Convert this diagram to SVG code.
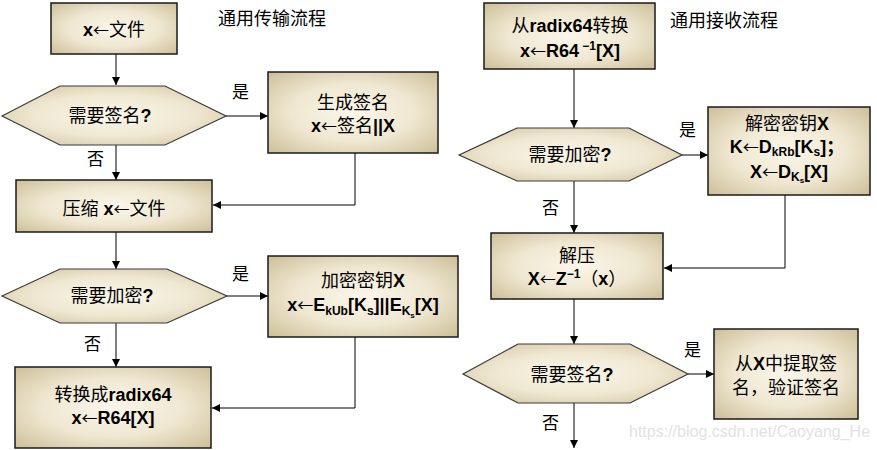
<svg xmlns="http://www.w3.org/2000/svg" width="877" height="450" viewBox="0 0 877 450">
<style>
text{font-family:"Liberation Sans","Noto Sans CJK SC",sans-serif;font-size:18px;fill:#000}
.c{text-anchor:middle}
.b{font-weight:bold}
.ar{font-family:"Noto Sans CJK SC",sans-serif;font-weight:normal;font-size:16px}
.sub{font-size:12px;font-weight:bold}
.ss{font-size:8px;font-weight:bold}
.lbl{font-size:17px}
.box{fill:url(#g);stroke:#1a1a1a;stroke-width:1.5}
.hex{fill:url(#g);stroke:#3a3a3a;stroke-width:1.2}
.ln{fill:none;stroke:#000;stroke-width:1;marker-end:url(#ah)}
.wm{font-size:16px;fill:#e2e2e2}
</style>
<defs>
<radialGradient id="g" cx="0.5" cy="0.5" r="0.72">
<stop offset="0" stop-color="#faf6ea"/>
<stop offset="0.5" stop-color="#efe7d1"/>
<stop offset="1" stop-color="#cbbd96"/>
</radialGradient>
<marker id="ah" viewBox="0 0 10 10" refX="10" refY="5" markerWidth="8" markerHeight="8" markerUnits="userSpaceOnUse" orient="auto">
<path d="M0,0L10,5L0,10z" fill="#000"/>
</marker>
</defs>

<text x="218" y="25">通用传输流程</text>
<text x="670" y="27">通用接收流程</text>

<g id="connectors">
<path class="ln" d="M116,54V85"/>
<path class="ln" d="M226,116H268"/>
<path class="ln" d="M116,145V180"/>
<path class="ln" d="M355,153V205H213"/>
<path class="ln" d="M116,232V269"/>
<path class="ln" d="M227,296H268"/>
<path class="ln" d="M116,323V367"/>
<path class="ln" d="M355,337V408H212"/>
<path class="ln" d="M574,69V128"/>
<path class="ln" d="M682,155H708"/>
<path class="ln" d="M574,181V233"/>
<path class="ln" d="M785,195V268H664"/>
<path class="ln" d="M574,299V344"/>
<path class="ln" d="M688,374H714"/>
<path class="ln" d="M574,403V448"/>
<text class="lbl" x="232" y="98">是</text>
<text class="lbl" x="87" y="165">否</text>
<text class="lbl" x="232" y="280">是</text>
<text class="lbl" x="84" y="350">否</text>
<text class="lbl" x="679" y="136">是</text>
<text class="lbl" x="542" y="214">否</text>
<text class="lbl" x="684" y="356">是</text>
<text class="lbl" x="542" y="429">否</text>
</g>

<g id="n1">
<rect class="box" x="51" y="3" width="126" height="51"/>
<text class="c" x="114" y="36"><tspan class="b">x</tspan><tspan class="ar">←</tspan>文件</text>
</g>
<g id="n2">
<polygon class="hex" points="2,116 60,86 165,86 226,116 165,145 60,145"/>
<text class="c" x="110" y="122">需要签名<tspan class="b">?</tspan></text>
</g>
<g id="n3">
<rect class="box" x="268" y="72" width="170" height="81"/>
<text class="c" x="353" y="109">生成签名</text>
<text class="c" x="353" y="132"><tspan class="b">x</tspan><tspan class="ar">←</tspan>签名<tspan class="b">||X</tspan></text>
</g>
<g id="n4">
<rect class="box" x="16" y="180" width="196" height="52"/>
<text class="c" x="114" y="215">压缩 <tspan class="b">x</tspan><tspan class="ar">←</tspan>文件</text>
</g>
<g id="n5">
<polygon class="hex" points="2,296 60,269 167,269 227,296 167,323 60,323"/>
<text class="c" x="112" y="302">需要加密<tspan class="b">?</tspan></text>
</g>
<g id="n6">
<rect class="box" x="268" y="256" width="190" height="81"/>
<text class="c" x="363" y="287">加密密钥<tspan class="b">X</tspan></text>
<text class="c" x="363" y="311"><tspan class="b">x</tspan><tspan class="ar">←</tspan><tspan class="b">E</tspan><tspan class="sub" dy="4">kUb</tspan><tspan class="b" dy="-4">[K</tspan><tspan class="sub" dy="4">s</tspan><tspan class="b" dy="-4">]||E</tspan><tspan class="sub" dy="4">K</tspan><tspan class="ss" dy="3">s</tspan><tspan class="b" dy="-7">[X]</tspan></text>
</g>
<g id="n7">
<rect class="box" x="15" y="367" width="196" height="81"/>
<text class="c" x="113" y="401">转换成<tspan class="b">radix64</tspan></text>
<text class="c" x="113" y="424"><tspan class="b">x</tspan><tspan class="ar">←</tspan><tspan class="b">R64[X]</tspan></text>
</g>

<g id="n8">
<rect class="box" x="484" y="3" width="171" height="66"/>
<text class="c" x="570" y="32">从<tspan class="b">radix64</tspan>转换</text>
<text class="c" x="570" y="57"><tspan class="b">x</tspan><tspan class="ar">←</tspan><tspan class="b">R64</tspan><tspan class="sub" dy="-7"> −1</tspan><tspan class="b" dy="7">[X]</tspan></text>
</g>
<g id="n9">
<polygon class="hex" points="459,155 517,128 629,128 682,155 629,181 517,181"/>
<text class="c" x="570" y="161">需要加密<tspan class="b">?</tspan></text>
</g>
<g id="n10">
<rect class="box" x="708" y="107" width="162" height="88"/>
<text class="c" x="787" y="130">解密密钥<tspan class="b">X</tspan></text>
<text class="c" x="787" y="153"><tspan class="b">K</tspan><tspan class="ar">←</tspan><tspan class="b">D</tspan><tspan class="sub" dy="3">kRb</tspan><tspan class="b" dy="-3">[K</tspan><tspan class="sub" dy="3">s</tspan><tspan class="b" dy="-3">]；</tspan></text>
<text class="c" x="789" y="178"><tspan class="b">X</tspan><tspan class="ar">←</tspan><tspan class="b">D</tspan><tspan class="sub" dy="3">K</tspan><tspan class="ss" dy="2">s</tspan><tspan class="b" dy="-5">[X]</tspan></text>
</g>
<g id="n11">
<rect class="box" x="491" y="233" width="172" height="66"/>
<text class="c" x="577" y="262">解压</text>
<text class="c" x="577" y="285"><tspan class="b">X</tspan><tspan class="ar">←</tspan><tspan class="b">Z</tspan><tspan class="sub" dy="-7">−1</tspan><tspan dy="7">（</tspan><tspan class="b">x</tspan>）</text>
</g>
<g id="n12">
<polygon class="hex" points="463,374 518,344 630,344 688,374 630,403 518,403"/>
<text class="c" x="572" y="381">需要签名<tspan class="b">?</tspan></text>
</g>
<g id="n13">
<rect class="box" x="714" y="329" width="144" height="90"/>
<text class="c" x="786" y="370">从<tspan class="b">X</tspan>中提取签</text>
<text class="c" x="786" y="394">名，验证签名</text>
</g>

<text class="wm" x="629" y="437">https://blog.csdn.net/Caoyang_He</text>
</svg>
